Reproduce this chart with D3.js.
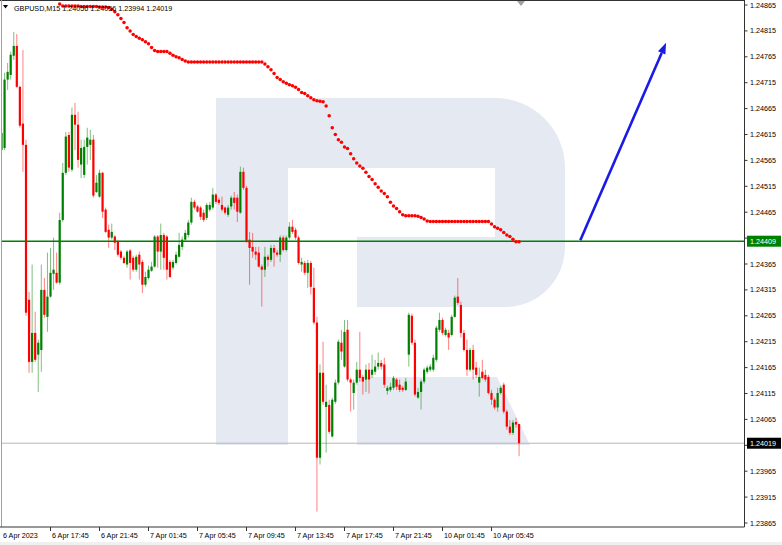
<!DOCTYPE html>
<html><head><meta charset="utf-8">
<script src="https://cdn.jsdelivr.net/npm/d3@7"></script>
<style>
body{margin:0;background:#fff;}
svg{display:block;}
text{font-family:"Liberation Sans",Arial,sans-serif;}
</style>
</head><body>
<svg id="c" width="782" height="545"></svg>
<script>
// ---------------- data ----------------
const symbol = "GBPUSD,M15";
// candles: [open, high, low, close], one per M15 bar
const candles = [
[1.24585,1.24624,1.24547,1.24618],[1.24589,1.24734,1.24585,1.24721],[1.24721,1.24753,1.24701,1.24736],[1.24730,1.24775,1.24721,1.24769],
[1.24767,1.24813,1.24759,1.24786],[1.24786,1.24809,1.24705,1.24707],[1.24707,1.24709,1.24628,1.24632],[1.24636,1.24778,1.24543,1.24595],
[1.24595,1.24605,1.24265,1.24271],[1.24296,1.24311,1.24155,1.24176],[1.24176,1.24364,1.24155,1.24232],[1.24232,1.24273,1.24176,1.24180],
[1.24190,1.24219,1.24118,1.24213],[1.24199,1.24364,1.24157,1.24315],[1.24315,1.24338,1.24261,1.24267],[1.24263,1.24387,1.24234,1.24302],
[1.24302,1.24396,1.24300,1.24348],[1.24346,1.24416,1.24315,1.24354],[1.24348,1.24387,1.24327,1.24329],[1.24329,1.24464,1.24325,1.24450],
[1.24450,1.24560,1.24446,1.24541],[1.24541,1.24620,1.24537,1.24611],[1.24614,1.24620,1.24543,1.24551],[1.24547,1.24667,1.24543,1.24653],
[1.24653,1.24676,1.24585,1.24634],[1.24634,1.24659,1.24551,1.24566],[1.24557,1.24605,1.24531,1.24589],[1.24537,1.24605,1.24531,1.24591],
[1.24591,1.24628,1.24557,1.24609],[1.24595,1.24624,1.24566,1.24605],[1.24605,1.24614,1.24493,1.24497],[1.24504,1.24537,1.24502,1.24522],
[1.24495,1.24547,1.24493,1.24541],[1.24541,1.24543,1.24454,1.24466],[1.24470,1.24474,1.24425,1.24427],[1.24431,1.24441,1.24396,1.24416],
[1.24416,1.24443,1.24412,1.24427],[1.24418,1.24421,1.24392,1.24406],[1.24408,1.24412,1.24379,1.24383],[1.24389,1.24392,1.24373,1.24377],
[1.24377,1.24381,1.24365,1.24367],[1.24364,1.24392,1.24358,1.24389],[1.24391,1.24394,1.24335,1.24367],[1.24377,1.24381,1.24350,1.24354],
[1.24354,1.24383,1.24350,1.24379],[1.24383,1.24389,1.24335,1.24364],[1.24369,1.24373,1.24309,1.24325],[1.24325,1.24350,1.24321,1.24340],
[1.24338,1.24362,1.24335,1.24354],[1.24352,1.24369,1.24350,1.24360],[1.24360,1.24421,1.24358,1.24418],[1.24418,1.24421,1.24358,1.24389],
[1.24389,1.24443,1.24354,1.24421],[1.24421,1.24425,1.24354,1.24377],[1.24418,1.24421,1.24335,1.24354],[1.24369,1.24373,1.24338,1.24340],
[1.24358,1.24373,1.24354,1.24369],[1.24367,1.24389,1.24364,1.24383],[1.24379,1.24425,1.24377,1.24402],[1.24398,1.24418,1.24392,1.24412],
[1.24412,1.24431,1.24408,1.24425],[1.24421,1.24450,1.24416,1.24445],[1.24445,1.24493,1.24441,1.24485],[1.24485,1.24489,1.24470,1.24474],
[1.24476,1.24479,1.24464,1.24466],[1.24474,1.24477,1.24450,1.24456],[1.24464,1.24470,1.24446,1.24450],[1.24454,1.24483,1.24450,1.24479],
[1.24470,1.24485,1.24466,1.24479],[1.24474,1.24512,1.24470,1.24499],[1.24499,1.24502,1.24481,1.24485],[1.24489,1.24493,1.24479,1.24483],
[1.24479,1.24495,1.24466,1.24470],[1.24474,1.24476,1.24460,1.24464],[1.24460,1.24479,1.24456,1.24474],[1.24476,1.24497,1.24470,1.24493],
[1.24493,1.24504,1.24470,1.24483],[1.24493,1.24499,1.24446,1.24466],[1.24464,1.24553,1.24462,1.24543],[1.24543,1.24551,1.24508,1.24512],
[1.24512,1.24516,1.24406,1.24408],[1.24412,1.24427,1.24325,1.24396],[1.24398,1.24425,1.24377,1.24389],[1.24389,1.24398,1.24373,1.24383],
[1.24387,1.24398,1.24358,1.24360],[1.24360,1.24364,1.24283,1.24354],[1.24354,1.24398,1.24340,1.24379],[1.24379,1.24383,1.24360,1.24373],
[1.24373,1.24402,1.24369,1.24396],[1.24396,1.24402,1.24360,1.24387],[1.24387,1.24392,1.24379,1.24383],[1.24383,1.24420,1.24369,1.24416],
[1.24416,1.24420,1.24389,1.24392],[1.24392,1.24420,1.24389,1.24416],[1.24416,1.24446,1.24412,1.24437],[1.24437,1.24450,1.24423,1.24427],
[1.24431,1.24435,1.24412,1.24416],[1.24416,1.24420,1.24364,1.24367],[1.24364,1.24377,1.24350,1.24369],[1.24367,1.24371,1.24344,1.24348],
[1.24348,1.24373,1.24319,1.24367],[1.24367,1.24371,1.24306,1.24321],[1.24319,1.24358,1.24248,1.24252],[1.24252,1.24263,1.23887,1.23991],
[1.23991,1.24171,1.23978,1.24155],[1.24155,1.24215,1.24093,1.24099],[1.24089,1.24132,1.24001,1.24099],[1.24093,1.24103,1.24037,1.24041],
[1.24032,1.24107,1.24030,1.24103],[1.24099,1.24142,1.24095,1.24136],[1.24136,1.24219,1.24132,1.24215],[1.24213,1.24238,1.24180,1.24196],
[1.24167,1.24257,1.24165,1.24234],[1.24238,1.24257,1.24138,1.24142],[1.24142,1.24145,1.24080,1.24136],[1.24116,1.24142,1.24084,1.24136],
[1.24136,1.24176,1.24132,1.24161],[1.24161,1.24234,1.24138,1.24145],[1.24147,1.24151,1.24113,1.24138],[1.24142,1.24171,1.24118,1.24161],
[1.24161,1.24174,1.24115,1.24142],[1.24151,1.24190,1.24145,1.24161],[1.24157,1.24180,1.24151,1.24167],[1.24167,1.24194,1.24161,1.24174],
[1.24174,1.24180,1.24161,1.24167],[1.24171,1.24184,1.24126,1.24132],[1.24120,1.24130,1.24113,1.24126],[1.24122,1.24136,1.24118,1.24128],
[1.24126,1.24149,1.24122,1.24145],[1.24142,1.24145,1.24122,1.24128],[1.24132,1.24142,1.24118,1.24122],[1.24126,1.24130,1.24118,1.24122],
[1.24122,1.24145,1.24120,1.24138],[1.24190,1.24271,1.24167,1.24267],[1.24265,1.24269,1.24209,1.24213],[1.24213,1.24219,1.24109,1.24113],
[1.24107,1.24126,1.24105,1.24118],[1.24118,1.24142,1.24084,1.24138],[1.24138,1.24165,1.24134,1.24161],[1.24157,1.24169,1.24153,1.24165],
[1.24161,1.24172,1.24157,1.24167],[1.24161,1.24190,1.24157,1.24184],[1.24180,1.24246,1.24176,1.24242],[1.24238,1.24271,1.24234,1.24257],
[1.24257,1.24261,1.24228,1.24232],[1.24228,1.24242,1.24225,1.24238],[1.24232,1.24238,1.24199,1.24223],[1.24228,1.24267,1.24225,1.24263],
[1.24263,1.24304,1.24261,1.24300],[1.24302,1.24338,1.24286,1.24290],[1.24286,1.24292,1.24223,1.24232],[1.24232,1.24238,1.24196,1.24199],
[1.24199,1.24219,1.24149,1.24161],[1.24161,1.24203,1.24157,1.24199],[1.24199,1.24209,1.24142,1.24161],[1.24165,1.24176,1.24145,1.24151],
[1.24136,1.24165,1.24109,1.24147],[1.24157,1.24180,1.24142,1.24145],[1.24151,1.24161,1.24138,1.24142],[1.24147,1.24151,1.24113,1.24116],
[1.24116,1.24122,1.24093,1.24103],[1.24103,1.24107,1.24084,1.24088],[1.24088,1.24126,1.24080,1.24116],[1.24116,1.24130,1.24113,1.24126],
[1.24132,1.24136,1.24076,1.24080],[1.24080,1.24084,1.24045,1.24051],[1.24051,1.24064,1.24035,1.24039],[1.24039,1.24064,1.24035,1.24059],
[1.24060,1.24068,1.24049,1.24055],[1.24056,1.24056,1.23994,1.24019]
];
// dotted red indicator, first value belongs to bar maStart
const maStart = 19;
const maValues = [
1.24867,1.24863,1.24863,1.24863,1.24863,1.24863,1.24863,1.24862,1.24862,1.24862,
1.24862,1.24862,1.24862,1.24861,1.24861,1.24861,1.24860,1.24857,1.24852,1.24846,
1.24839,1.24831,1.24821,1.24815,1.24808,1.24804,1.24801,1.24798,1.24794,1.24790,
1.24783,1.24777,1.24775,1.24775,1.24775,1.24775,1.24772,1.24768,1.24765,1.24763,
1.24760,1.24757,1.24755,1.24755,1.24755,1.24755,1.24755,1.24755,1.24755,1.24755,
1.24755,1.24755,1.24755,1.24755,1.24755,1.24755,1.24755,1.24755,1.24755,1.24755,
1.24755,1.24755,1.24755,1.24755,1.24755,1.24755,1.24755,1.24751,1.24746,1.24740,
1.24733,1.24725,1.24721,1.24717,1.24714,1.24711,1.24709,1.24706,1.24702,1.24696,
1.24694,1.24690,1.24686,1.24682,1.24680,1.24679,1.24678,1.24670,1.24651,1.24628,
1.24615,1.24605,1.24600,1.24591,1.24588,1.24578,1.24568,1.24560,1.24554,1.24550,
1.24542,1.24534,1.24528,1.24520,1.24513,1.24506,1.24501,1.24495,1.24484,1.24477,
1.24472,1.24466,1.24460,1.24458,1.24458,1.24458,1.24458,1.24457,1.24455,1.24452,
1.24448,1.24447,1.24447,1.24447,1.24447,1.24447,1.24447,1.24447,1.24447,1.24447,
1.24447,1.24447,1.24447,1.24447,1.24447,1.24447,1.24447,1.24447,1.24447,1.24447,
1.24447,1.24442,1.24437,1.24434,1.24431,1.24426,1.24421,1.24418,1.24413,1.24408,
1.24408
];
const priceTicks = [1.24865,1.24815,1.24765,1.24715,1.24665,1.24615,1.24565,1.24515,1.24465,1.24415,
  1.24365,1.24315,1.24265,1.24215,1.24165,1.24115,1.24065,1.24015,1.23965,1.23915,1.23865];
const timeLabels = ["6 Apr 2023","6 Apr 17:45","6 Apr 21:45","7 Apr 01:45","7 Apr 05:45","7 Apr 09:45",
  "7 Apr 13:45","7 Apr 17:45","7 Apr 21:45","10 Apr 01:45","10 Apr 05:45"];
const timeLabelBars = [0,16,32,48,64,80,96,112,128,144,160];
const levelPrice = 1.24409;
const arrowFrom = [189, 1.24411];
const arrowTo = [217, 1.24792];

// ---------------- drawing ----------------
const svg = d3.select("#c");
const plotL = 1.5, plotR = 744.5, plotT = 0.5, plotB = 527;
const x = d3.scaleLinear().domain([0, 16]).range([1.5, 50.5]);
const y = d3.scaleLinear().domain([1.23865, 1.24865]).range([523, 5]);
const fmt = d3.format(".5f");
const bull = "#008000", bear = "#ff0000";

svg.append("rect").attr("width", 782).attr("height", 545).attr("fill", "#fff");
svg.append("rect").attr("x",0).attr("y",542).attr("width",782).attr("height",3).attr("fill","#f0f0f0");

svg.append("defs").append("clipPath").attr("id","plot")
  .append("rect").attr("x",plotL).attr("y",plotT).attr("width",plotR-plotL).attr("height",plotB-plotT);

const g = svg.append("g").attr("clip-path","url(#plot)");

// watermark logo
g.append("path").attr("fill","#e4e9f2")
  .attr("d","M216,98 H495 A70,70 0 0 1 565,168 V247 A60,60 0 0 1 505,307 H357 V237 H495 V168 H288 V445 H216 Z");
g.append("path").attr("fill","#e4e9f2")
  .attr("d","M357,377 H497 L530,445 H357 Z");

// last price line
const lastClose = candles[candles.length-1][3];
g.append("line").attr("x1",plotL).attr("x2",plotR)
  .attr("y1",y(lastClose)).attr("y2",y(lastClose))
  .attr("stroke","#b8b8b8").attr("stroke-width",1);

// candles
const cg = g.append("g");
candles.forEach((d,i)=>{
  const [o,h,l,c] = d;
  const col = c >= o ? bull : bear;
  const cx = x(i);
  cg.append("line").attr("x1",cx).attr("x2",cx).attr("y1",y(h)).attr("y2",y(l))
    .attr("stroke",col).attr("stroke-width",1).attr("stroke-opacity",0.5);
  const top = y(Math.max(o,c)), bot = y(Math.min(o,c));
  cg.append("rect").attr("x",cx-1.1).attr("width",2.2)
    .attr("y",top).attr("height",Math.max(1,bot-top)).attr("fill",col);
});

// level line
g.append("line").attr("x1",plotL).attr("x2",plotR)
  .attr("y1",y(levelPrice)).attr("y2",y(levelPrice))
  .attr("stroke","#008000").attr("stroke-width",1.6);

// header
svg.append("path").attr("d","M3,5 L8,5 L5.5,8.5 Z").attr("fill","#000");
const last = candles[candles.length-1];
svg.append("text").attr("x",14).attr("y",10.5).attr("font-size","7.2px").attr("fill","#000")
  .text(symbol+"  "+last.map(fmt).join(" "));

// red dotted indicator
g.append("g").selectAll("circle").data(maValues).join("circle")
  .attr("cx",(d,k)=>x(maStart+k)).attr("cy",d=>y(d)).attr("r",1.75).attr("fill","#ff0000");

// blue arrow
const ax1 = x(arrowFrom[0]), ay1 = y(arrowFrom[1]), ax2 = x(arrowTo[0]), ay2 = y(arrowTo[1]);
const ang = Math.atan2(ay2-ay1, ax2-ax1), hl = 11, hw = 4;
const bx = ax2 - hl*Math.cos(ang), by = ay2 - hl*Math.sin(ang);
g.append("line").attr("x1",ax1).attr("y1",ay1).attr("x2",bx).attr("y2",by)
  .attr("stroke","#1a1ae6").attr("stroke-width",2.6);
g.append("path").attr("fill","#1a1ae6")
  .attr("d",`M${ax2},${ay2} L${bx+hw*Math.sin(ang)},${by-hw*Math.cos(ang)} L${bx-hw*Math.sin(ang)},${by+hw*Math.cos(ang)} Z`);

// shift marker
svg.append("path").attr("d","M517,1 L525,1 L521,6 Z").attr("fill","#a0a0a0");

// frame
svg.append("line").attr("x1",0).attr("x2",plotR).attr("y1",0.5).attr("y2",0.5).attr("stroke","#333");
svg.append("line").attr("x1",1.5).attr("x2",1.5).attr("y1",0).attr("y2",plotB).attr("stroke","#a0a0a0");
svg.append("line").attr("x1",plotR).attr("x2",plotR).attr("y1",0).attr("y2",plotB).attr("stroke","#333");
svg.append("line").attr("x1",0).attr("x2",plotR).attr("y1",plotB).attr("y2",plotB).attr("stroke","#333");

// price axis
const pa = svg.append("g");
const tagPrices = [levelPrice, lastClose];
priceTicks.forEach(p=>{
  pa.append("line").attr("x1",plotR).attr("x2",plotR+3).attr("y1",y(p)).attr("y2",y(p)).attr("stroke","#333");
  const hidden = tagPrices.some(t => Math.abs(y(t)-y(p)) < 10);
  if (!hidden)
    pa.append("text").attr("x",750).attr("y",y(p)).attr("dy","0.35em").attr("font-size","7.2px").attr("fill","#000").text(fmt(p));
});
function priceTag(p, bg){
  pa.append("rect").attr("x",747).attr("y",y(p)-5.5).attr("width",34).attr("height",11).attr("fill",bg);
  pa.append("text").attr("x",750).attr("y",y(p)).attr("dy","0.35em").attr("font-size","7.2px").attr("fill","#fff").text(fmt(p));
}
priceTag(levelPrice, "#008000");
priceTag(lastClose, "#000");

// time axis
const ta = svg.append("g");
timeLabels.forEach((t,k)=>{
  const tx = x(timeLabelBars[k]);
  if (k>0) ta.append("line").attr("x1",tx).attr("x2",tx).attr("y1",plotB).attr("y2",plotB+4).attr("stroke","#333");
  ta.append("text").attr("x",tx+1.5).attr("y",538).attr("font-size","7.2px").attr("fill","#000").text(t);
});
</script>
</body></html>
